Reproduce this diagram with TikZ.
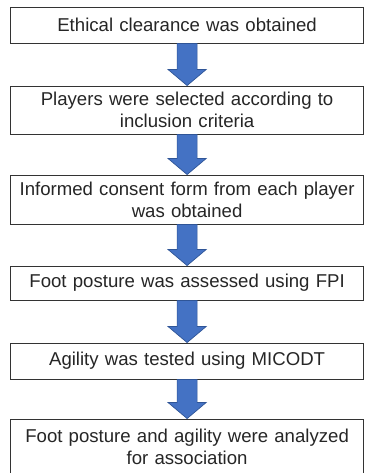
\documentclass[tikz,border=0pt]{standalone}
\usepackage{fontspec}
\setmainfont{Liberation Sans}
\usetikzlibrary{calc}

\definecolor{arrowfill}{HTML}{4472C4}
\definecolor{arrowline}{HTML}{2F5597}

% block arrow from the bottom of one box to the top of the next
\newcommand\stagearrow[2]{%
  \draw[stagelink] let \p1=(#1.south), \p2=(#2.north) in
    (\x1-10pt,\y1) -- (\x1-10pt,\y2+16pt) -- (\x1-19pt,\y2+16pt) -- (\x2,\y2)
    -- (\x1+19pt,\y2+16pt) -- (\x1+10pt,\y2+16pt) -- (\x1+10pt,\y1) -- cycle;}

\begin{document}
\begin{tikzpicture}[x=1pt, y=-1pt,
  stage/.style={draw=black!80, line width=0.9pt, fill=white, text=black!85,
    minimum width=353pt, text width=345pt, align=center, inner sep=0pt,
    font=\fontsize{18.6}{22}\selectfont},
  stagelink/.style={fill=arrowfill, draw=arrowline, line width=0.7pt, line join=miter}]
  \useasboundingbox (0,0) rectangle (365,473);
  \clip (0,0) rectangle (365,473);

  \node[stage, minimum height=36pt] (ethics)  at (187.1, 25.0) {Ethical clearance was obtained};
  \node[stage, minimum height=48pt] (select)  at (187.1,110.0) {Players were selected according to\\inclusion criteria};
  \node[stage, minimum height=49pt] (consent) at (187.1,199.5) {Informed consent form from each player\\was obtained};
  \node[stage, minimum height=34pt] (fpi)     at (187.1,283.0) {Foot posture was assessed using FPI};
  \node[stage, minimum height=36pt] (micodt)  at (187.1,361.0) {Agility was tested using MICODT};
  \node[stage, minimum height=56pt] (assoc)   at (187.1,447.0) {Foot posture and agility were analyzed\\for association};

  \stagearrow{ethics}{select}
  \stagearrow{select}{consent}
  \stagearrow{consent}{fpi}
  \stagearrow{fpi}{micodt}
  \stagearrow{micodt}{assoc}
\end{tikzpicture}
\end{document}
